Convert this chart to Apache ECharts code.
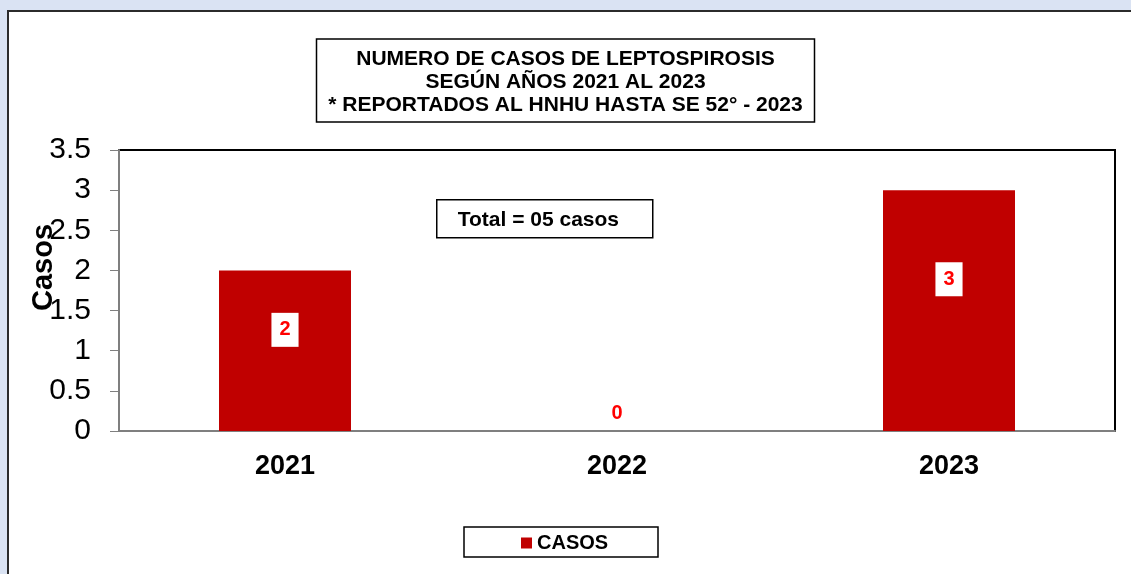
<!DOCTYPE html>
<html>
<head>
    <meta charset="UTF-8">
    <title>Leptospirosis</title>
    <script src="https://cdn.jsdelivr.net/npm/echarts@6/dist/echarts.min.js"></script>
    <style type="text/css">
        *{padding:0;margin:0}
        body{background:#dae3f3;}
        #chart{width:1131px;height:574px;}
    </style>
</head>
<body>
<div id="chart"></div>
<script type="text/javascript">
    // datos
    var years = ['2021', '2022', '2023'];
    var casos = [2, 0, 3];
    var yTicks = [0, 0.5, 1, 1.5, 2, 2.5, 3, 3.5];
    var titleLines = [
        'NUMERO DE CASOS DE LEPTOSPIROSIS',
        'SEGÚN AÑOS 2021 AL 2023',
        '* REPORTADOS AL HNHU HASTA SE 52° - 2023'
    ];
    var totalText = 'Total = 05 casos';
    var seriesName = 'CASOS';

    var font = 'Liberation Sans, Arial, sans-serif';

    // la barra en cero lleva la etiqueta encima del eje
    var barData = casos.map(function (v) {
        var item = {value: v};
        if (v === 0) {
            item.label = {position: 'top', distance: 1, verticalAlign: 'bottom'};
        }
        return item;
    });

    var option = {
        backgroundColor: '#dae3f3',
        animation: false,
        textStyle: {fontFamily: font},
        graphic: [
            {
                type: 'rect',
                z: -100,
                silent: true,
                shape: {x: 8, y: 11, width: 1140, height: 580},
                style: {fill: '#ffffff', stroke: '#2b2b2b', lineWidth: 2}
            },
            {
                type: 'group',
                left: 436,
                top: 199,
                children: [
                    {
                        type: 'rect',
                        shape: {x: 0, y: 0, width: 216, height: 38},
                        style: {fill: '#ffffff', stroke: '#000', lineWidth: 1.5}
                    },
                    {
                        type: 'text',
                        x: 21,
                        y: 20,
                        style: {
                            text: totalText,
                            fontFamily: font,
                            fontWeight: 'bold',
                            fontSize: 21,
                            fill: '#000',
                            verticalAlign: 'middle'
                        }
                    }
                ]
            },
            {
                type: 'rect',
                silent: true,
                shape: {x: 464, y: 527, width: 194, height: 30},
                style: {fill: '#ffffff', stroke: '#000', lineWidth: 1.5}
            }
        ],
        title: {
            text: titleLines.join('\n'),
            left: 'center',
            top: 39,
            padding: [9, 12, 5, 12],
            borderColor: '#000',
            borderWidth: 1.5,
            backgroundColor: '#fff',
            textStyle: {
                fontFamily: font,
                fontSize: 21,
                fontWeight: 'bold',
                lineHeight: 23,
                color: '#000'
            }
        },
        legend: {
            data: [seriesName],
            left: 516,
            top: 528,
            itemWidth: 11,
            itemHeight: 11,
            icon: 'rect',
            itemStyle: {borderWidth: 0},
            textStyle: {
                fontFamily: font,
                fontSize: 20,
                fontWeight: 'bold',
                color: '#000'
            }
        },
        grid: {
            left: 119,
            right: 16,
            top: 150,
            bottom: 143,
            show: true,
            borderColor: '#000',
            borderWidth: 2,
            backgroundColor: '#fff'
        },
        xAxis: {
            type: 'category',
            data: years,
            axisLine: {lineStyle: {color: '#7f7f7f', width: 2}},
            axisTick: {show: false},
            axisLabel: {
                margin: 22,
                fontFamily: font,
                fontSize: 27,
                fontWeight: 'bold',
                color: '#000'
            }
        },
        yAxis: {
            type: 'value',
            min: yTicks[0],
            max: yTicks[yTicks.length - 1],
            interval: 0.5,
            name: 'Casos',
            nameLocation: 'middle',
            nameRotate: 90,
            nameGap: 61,
            nameMoveOverlap: false,
            nameTextStyle: {
                fontFamily: font,
                fontSize: 29,
                fontWeight: 'bold',
                color: '#000',
                padding: [0, 0, 0, 46]
            },
            axisLine: {show: true, lineStyle: {color: '#7f7f7f', width: 2}},
            axisTick: {show: true, length: 9, lineStyle: {color: '#7f7f7f', width: 1}},
            splitLine: {show: false},
            axisLabel: {
                margin: 28,
                fontFamily: font,
                fontSize: 30,
                color: '#000'
            }
        },
        series: [
            {
                name: seriesName,
                type: 'bar',
                barWidth: 132,
                data: barData,
                itemStyle: {color: '#c00000'},
                label: {
                    show: true,
                    position: ['50%', '37%'],
                    align: 'center',
                    verticalAlign: 'middle',
                    backgroundColor: '#fff',
                    padding: [7, 8],
                    fontFamily: font,
                    fontSize: 20,
                    fontWeight: 'bold',
                    color: '#ff0000'
                }
            }
        ]
    };

    var chart = echarts.init(document.getElementById('chart'));
    chart.setOption(option);
</script>
</body>
</html>
